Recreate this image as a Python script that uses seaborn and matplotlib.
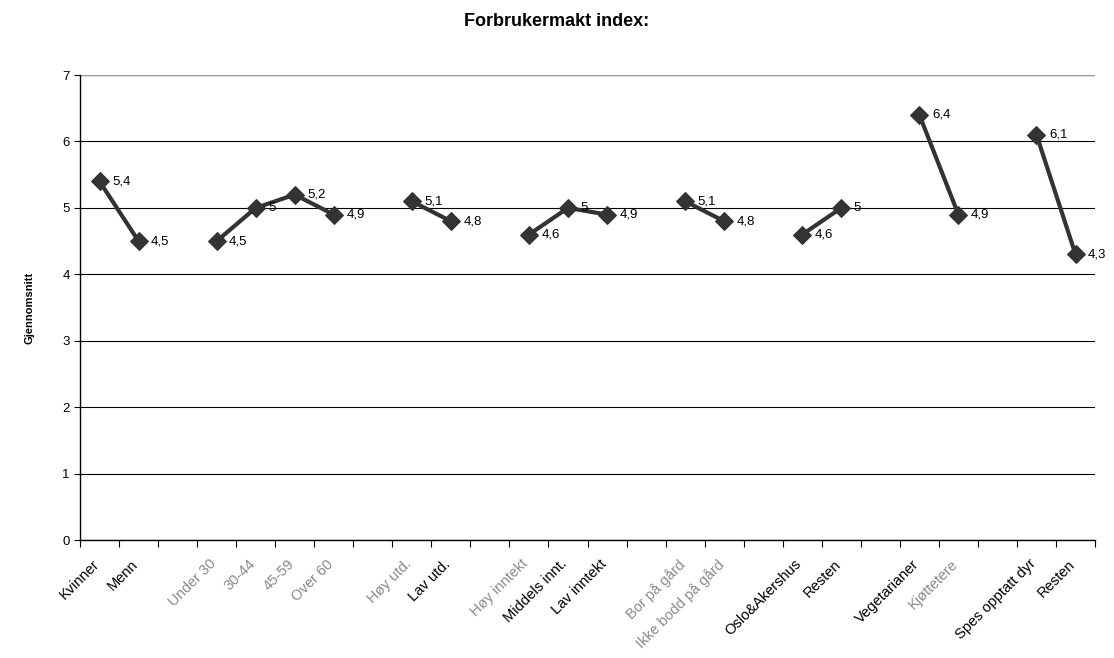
import numpy as np
import pandas as pd
import seaborn as sns
import matplotlib.pyplot as plt

# categories in axis order; '' = empty gap category between groups
categories = ['Kvinner', 'Menn', '',
              'Under 30', '30-44', '45-59', 'Over 60', '',
              'Høy utd.', 'Lav utd.', '',
              'Høy inntekt', 'Middels innt.', 'Lav inntekt', '',
              'Bor på gård', 'Ikke bodd på gård', '',
              'Oslo&Akershus', 'Resten', '',
              'Vegetarianer', 'Kjøttetere', '',
              'Spes opptatt dyr', 'Resten']
values = [5.4, 4.5, None,
          4.5, 5.0, 5.2, 4.9, None,
          5.1, 4.8, None,
          4.6, 5.0, 4.9, None,
          5.1, 4.8, None,
          4.6, 5.0, None,
          6.4, 4.9, None,
          6.1, 4.3]
# labels that appear faded in the reference
faded = ['Under 30', '30-44', '45-59', 'Over 60', 'Høy utd.', 'Høy inntekt',
         'Bor på gård', 'Ikke bodd på gård', 'Kjøttetere']

# build group id so lines break at gaps
grp, g = [], 0
for v in values:
    if v is None:
        g += 1
    grp.append(g)
df = pd.DataFrame({'pos': range(len(categories)), 'cat': categories,
                   'val': values, 'grp': grp}).dropna()

sns.set_style('white')
plt.rcParams['font.family'] = ['Liberation Sans', 'DejaVu Sans']
plt.rcParams['text.color'] = 'black'
plt.rcParams['axes.labelcolor'] = 'black'
plt.rcParams['xtick.color'] = 'black'
plt.rcParams['ytick.color'] = 'black'

fig = plt.figure(figsize=(11.14, 6.58), dpi=100)
ax = fig.add_axes([0.0718, 0.179, 0.9112, 0.707])

sns.lineplot(data=df, x='pos', y='val', units='grp', estimator=None,
             color='#333333', linewidth=3, marker='D', markersize=9.5,
             markeredgecolor='#333333', ax=ax)

for _, r in df.iterrows():
    ax.annotate(f"{r['val']:.1f}".replace('.', ',') if r['val'] % 1 else f"{int(r['val'])}",
                (r['pos'], r['val']), xytext=(9, 0), textcoords='offset points',
                va='center', ha='left', fontsize=9.5)

n = len(categories)
ax.set_xlim(-0.5, n - 0.5)
ax.set_ylim(0, 7)
ax.set_yticks(range(8))
ax.yaxis.grid(True, color='black', linewidth=0.8)
ax.set_axisbelow(True)

# tick marks at category boundaries, labels at centres
ax.set_xticks(np.arange(-0.5, n, 1), minor=True)
ax.set_xticks(np.arange(n) - 0.2)
ax.set_xticklabels(categories, rotation=45, ha='right', rotation_mode='anchor',
                   fontsize=10.5)
for lbl in ax.get_xticklabels():
    if lbl.get_text() in faded:
        lbl.set_color('#8a8a8a')
ax.tick_params(axis='x', which='major', length=0, pad=12)
ax.tick_params(axis='x', which='minor', length=5, width=0.8, color='black', direction='out', bottom=True)
ax.tick_params(axis='y', length=4, width=0.8, direction='out', left=True, labelsize=9.5)

for s in ['left', 'bottom']:
    ax.spines[s].set_color('black')
    ax.spines[s].set_linewidth(1)
ax.spines['right'].set_visible(False)
ax.spines['top'].set_visible(False)
ax.axhline(7, color='#999999', linewidth=1)

ax.set_xlabel('')
ax.set_ylabel('Gjennomsnitt', fontsize=8, fontweight='bold', labelpad=20)
fig.suptitle('Forbrukermakt index:', fontsize=13, fontweight='bold', y=0.98)

fig.savefig('out.png', dpi=100)
